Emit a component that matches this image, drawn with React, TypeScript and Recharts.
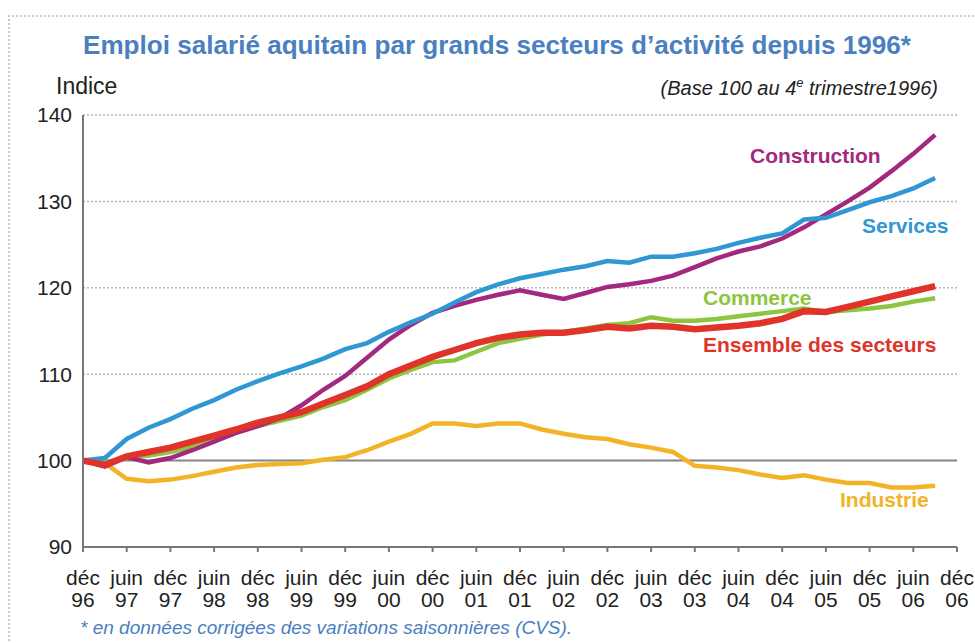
import React from 'react';
import { LineChart, Line, XAxis, YAxis, CartesianGrid, ReferenceLine } from 'recharts';

// Quarterly periods, 4th quarter 1996 to 3rd quarter 2006
const quarters = [
  'T4 1996',
  'T1 1997', 'T2 1997', 'T3 1997', 'T4 1997',
  'T1 1998', 'T2 1998', 'T3 1998', 'T4 1998',
  'T1 1999', 'T2 1999', 'T3 1999', 'T4 1999',
  'T1 2000', 'T2 2000', 'T3 2000', 'T4 2000',
  'T1 2001', 'T2 2001', 'T3 2001', 'T4 2001',
  'T1 2002', 'T2 2002', 'T3 2002', 'T4 2002',
  'T1 2003', 'T2 2003', 'T3 2003', 'T4 2003',
  'T1 2004', 'T2 2004', 'T3 2004', 'T4 2004',
  'T1 2005', 'T2 2005', 'T3 2005', 'T4 2005',
  'T1 2006', 'T2 2006', 'T3 2006',
];

const construction = [
  100, 99.3, 100.4, 99.8, 100.3, 101.2, 102.2, 103.2, 104.0, 104.9,
  106.4, 108.2, 109.8, 111.9, 114.0, 115.7, 117.1, 117.9, 118.6, 119.2,
  119.7, 119.2, 118.7, 119.4, 120.1, 120.4, 120.8, 121.4, 122.4, 123.4,
  124.2, 124.8, 125.7, 127.0, 128.5, 130.0, 131.6, 133.5, 135.5, 137.7,
];

const services = [
  100, 100.3, 102.5, 103.8, 104.8, 106.0, 107.0, 108.2, 109.2, 110.1,
  110.9, 111.8, 112.9, 113.6, 114.9, 116.0, 117.0, 118.3, 119.5, 120.4,
  121.1, 121.6, 122.1, 122.5, 123.1, 122.9, 123.6, 123.6, 124.0, 124.5,
  125.2, 125.8, 126.3, 127.9, 128.1, 129.0, 129.9, 130.6, 131.5, 132.7,
];

const commerce = [
  100, 99.8, 100.3, 100.6, 101.0, 101.6, 102.4, 103.2, 104.0, 104.6,
  105.2, 106.2, 107.0, 108.2, 109.5, 110.5, 111.4, 111.6, 112.6, 113.6,
  114.1, 114.6, 114.9, 115.3, 115.7, 115.9, 116.6, 116.2, 116.2, 116.4,
  116.7, 117.0, 117.3, 117.6, 117.2, 117.4, 117.6, 117.9, 118.4, 118.8,
];

const ensemble = [
  100, 99.5, 100.5, 101.0, 101.5, 102.2, 102.9, 103.6, 104.4, 105.0,
  105.6, 106.6, 107.6, 108.6, 110.0, 111.0, 112.0, 112.8, 113.6, 114.2,
  114.6, 114.8, 114.8, 115.1, 115.5, 115.3, 115.6, 115.5, 115.2, 115.4,
  115.6, 115.9, 116.4, 117.3, 117.2, 117.8, 118.4, 119.0, 119.6, 120.2,
];

const industrie = [
  100, 99.7, 97.9, 97.6, 97.8, 98.2, 98.7, 99.2, 99.5, 99.6,
  99.7, 100.1, 100.4, 101.2, 102.2, 103.1, 104.3, 104.3, 104.0, 104.3,
  104.3, 103.6, 103.1, 102.7, 102.5, 101.9, 101.5, 101.0, 99.4, 99.2,
  98.9, 98.4, 98.0, 98.3, 97.8, 97.4, 97.4, 96.9, 96.9, 97.1,
];

const tickMonths = ['déc', 'juin', 'déc', 'juin', 'déc', 'juin', 'déc', 'juin', 'déc', 'juin', 'déc',
  'juin', 'déc', 'juin', 'déc', 'juin', 'déc', 'juin', 'déc', 'juin', 'déc'];
const tickYears = ['96', '97', '97', '98', '98', '99', '99', '00', '00', '01', '01',
  '02', '02', '03', '03', '04', '04', '05', '05', '06', '06'];
const xTicks = [0, 2, 4, 6, 8, 10, 12, 14, 16, 18, 20, 22, 24, 26, 28, 30, 32, 34, 36, 38, 40];
const yTicks = [90, 100, 110, 120, 130, 140];

const data = quarters.map((q, i) => ({
  i,
  q,
  construction: construction[i],
  services: services[i],
  commerce: commerce[i],
  ensemble: ensemble[i],
  industrie: industrie[i],
}));

const FONT = '"Liberation Sans", Arial, sans-serif';

const XTick = (props: any) => {
  const { x, y, payload } = props;
  const k = xTicks.indexOf(payload.value);
  return (
    <text x={x} textAnchor="middle" fill="#222" fontSize={21} fontFamily={FONT}>
      <tspan x={x} y={y + 31}>{tickMonths[k]}</tspan>
      <tspan x={x} y={y + 53}>{tickYears[k]}</tspan>
    </text>
  );
};

export default function App() {
  return (
    <div style={{ position: 'absolute', left: 0, top: 0, width: 975, height: 643, background: '#fff', fontFamily: FONT, overflow: 'hidden' }}>
      <div style={{ position: 'absolute', left: 8, top: 15, width: 980, height: 640, borderTop: '2px dotted #c8c8c8', borderLeft: '2px dotted #c8c8c8' }} />
      <div style={{ position: 'absolute', left: 0, top: 0 }}>
        <LineChart width={975} height={643} data={data} margin={{ top: 115, right: 18, bottom: 36, left: 0 }}>
          <CartesianGrid vertical={false} stroke="#b5b5b5" strokeDasharray="2 2" strokeWidth={1.5} />
          <XAxis
            dataKey="i"
            type="number"
            domain={[0, 40]}
            ticks={xTicks}
            interval={0}
            tick={<XTick />}
            tickSize={5}
            tickMargin={2}
            height={60}
            stroke="#777"
            strokeWidth={2}
            allowDecimals={false}
          />
          <YAxis
            type="number"
            domain={[90, 140]}
            ticks={yTicks}
            interval={0}
            width={83}
            tickLine={false}
            tickSize={0}
            tickMargin={11}
            stroke="#777"
            strokeWidth={2}
            tick={{ fill: '#222', fontSize: 21, fontFamily: FONT }}
          />
          <ReferenceLine y={100} stroke="#888" strokeWidth={2} />
          <Line dataKey="industrie" stroke="#f2b326" strokeWidth={4.5} dot={false} isAnimationActive={false} />
          <Line dataKey="commerce" stroke="#8cc63e" strokeWidth={4.5} dot={false} isAnimationActive={false} />
          <Line dataKey="construction" stroke="#a3287f" strokeWidth={4.5} dot={false} isAnimationActive={false} />
          <Line dataKey="services" stroke="#2f97d4" strokeWidth={4.5} dot={false} isAnimationActive={false} />
          <Line dataKey="ensemble" stroke="#e0342b" strokeWidth={6.5} dot={false} isAnimationActive={false} />
        </LineChart>
      </div>
      <svg width={975} height={643} style={{ position: 'absolute', left: 0, top: 0, pointerEvents: 'none' }} fontFamily={FONT}>
        <text x={497} y={54} textAnchor="middle" fontSize={26} fontWeight="bold" fill="#4a7fc0" textLength={828} lengthAdjust="spacingAndGlyphs">
          Emploi salarié aquitain par grands secteurs d’activité depuis 1996*
        </text>
        <text x={56} y={94} fontSize={23} fill="#222">Indice</text>
        <text x={938} y={95} textAnchor="end" fontSize={20} fontStyle="italic" fill="#222">
          (Base 100 au 4<tspan fontSize={13} dy={-8}>e</tspan><tspan dy={8}> trimestre1996)</tspan>
        </text>
        <text x={750} y={163} fontSize={21} fontWeight="bold" fill="#a3287f">Construction</text>
        <text x={862} y={233} fontSize={21} fontWeight="bold" fill="#2f97d4">Services</text>
        <text x={703} y={305} fontSize={21} fontWeight="bold" fill="#8cc63e">Commerce</text>
        <text x={703} y={352} fontSize={21} fontWeight="bold" fill="#e0342b">Ensemble des secteurs</text>
        <text x={840} y={507} fontSize={21} fontWeight="bold" fill="#f2b326">Industrie</text>
        <text x={80} y={634} fontSize={19} fontStyle="italic" fill="#4a7fc0">
          * en données corrigées des variations saisonnières (CVS).
        </text>
      </svg>
    </div>
  );
}
